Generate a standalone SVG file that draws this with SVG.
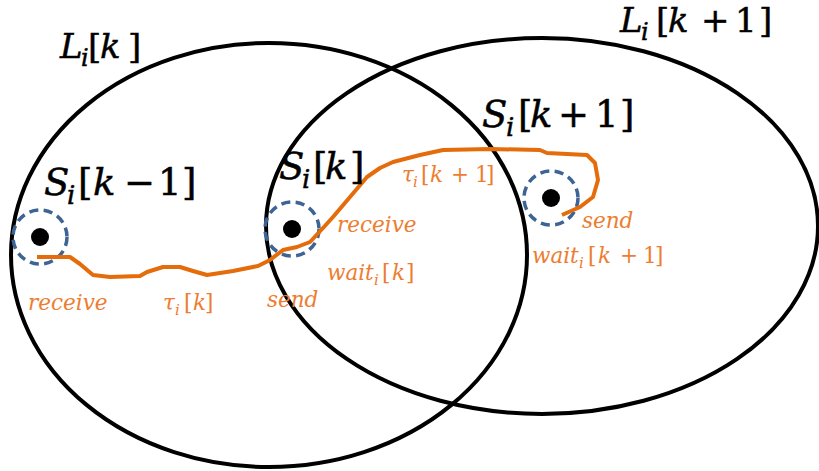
<svg xmlns="http://www.w3.org/2000/svg" width="819" height="471" viewBox="0 0 819 471">
<style>
.region{fill:none;stroke:#000;stroke-width:4}
.halo{fill:none;stroke:#3E6494;stroke-width:3.5;stroke-dasharray:9 5.5}
.dot{fill:#000}
.path{fill:none;stroke:#E46C0A;stroke-width:4;stroke-linejoin:round}
.big{font-family:"DejaVu Serif",serif;fill:#000;stroke:#000;stroke-width:0.5}
.ol{font-family:"DejaVu Serif",serif;fill:#ED7D31;font-size:21.5px}
.it{font-style:italic}
</style>
<rect width="819" height="471" fill="#fff"/>
<g id="region-L-k"><ellipse class="region" cx="269" cy="255" rx="258" ry="212"/></g>
<g id="region-L-k1"><ellipse class="region" cx="542" cy="226" rx="276" ry="188"/></g>
<g id="node-S-km1"><circle class="halo" cx="40" cy="237" r="27"/><circle class="dot" cx="40" cy="237" r="9"/></g>
<g id="node-S-k"><circle class="halo" cx="292" cy="229" r="27"/><circle class="dot" cx="292" cy="229" r="9"/></g>
<g id="node-S-k1"><circle class="halo" cx="551" cy="198" r="27"/><circle class="dot" cx="551" cy="198" r="9"/></g>
<g id="connectors">
<path class="path" d="M37,257 L70,257 L80,264 L93,275 L110,277 L140,276 L147,272 L163,267 L180,267 L193,271 L207,275 L220,273 L233,271 L258,266 L270,260 L283,250 L297,247 L310,242 L323,228 L333,217 L350,197 L367,177 L380,168 L393,162 L420,155 L443,150 L490,149 L540,150 L547,153 L587,155 L595,163 L598,180 L593,197 L580,207 L562,215"/>
</g>
<g id="labels-black" class="big">
<text font-size="34"><tspan class="it" x="60" y="58">L</tspan><tspan class="it" x="81" y="66" font-size="24">i</tspan><tspan x="88" y="58">[</tspan><tspan class="it" x="100" y="58">k</tspan><tspan x="128" y="58">]</tspan></text>
<text font-size="34"><tspan class="it" x="620" y="32">L</tspan><tspan class="it" x="641" y="40" font-size="24">i</tspan><tspan x="656" y="32">[</tspan><tspan class="it" x="668" y="32">k</tspan><tspan x="701" y="32">+</tspan><tspan x="735" y="32">1</tspan><tspan x="759" y="32">]</tspan></text>
<text font-size="37"><tspan class="it" x="44" y="195">S</tspan><tspan class="it" x="67" y="204" font-size="26">i</tspan><tspan x="78" y="195">[</tspan><tspan class="it" x="93" y="195">k</tspan><tspan x="124" y="195">−</tspan><tspan x="158" y="195">1</tspan><tspan x="182" y="195">]</tspan></text>
<text font-size="37"><tspan class="it" x="279" y="179">S</tspan><tspan class="it" x="302" y="188" font-size="26">i</tspan><tspan x="313" y="179">[</tspan><tspan class="it" x="325" y="179">k</tspan><tspan x="350" y="179">]</tspan></text>
<text font-size="37"><tspan class="it" x="482" y="127">S</tspan><tspan class="it" x="506" y="136" font-size="26">i</tspan><tspan x="518" y="127">[</tspan><tspan class="it" x="530" y="127">k</tspan><tspan x="558" y="127">+</tspan><tspan x="595" y="127">1</tspan><tspan x="620" y="127">]</tspan></text>
</g>
<g id="labels-orange" class="ol">
<text class="it" x="28" y="310">receive</text>
<text class="it" x="267" y="307">send</text>
<text class="it" x="337" y="232">receive</text>
<text class="it" x="582" y="228">send</text>
<text><tspan class="it" x="163" y="310">τ</tspan><tspan class="it" x="175" y="315" font-size="15">i</tspan><tspan x="184" y="310">[</tspan><tspan class="it" x="193" y="310">k</tspan><tspan x="205" y="310">]</tspan></text>
<text><tspan class="it" x="402" y="182">τ</tspan><tspan class="it" x="413" y="187" font-size="15">i</tspan><tspan x="421" y="182">[</tspan><tspan class="it" x="430" y="182">k</tspan><tspan x="451" y="182">+</tspan><tspan x="475" y="182">1</tspan><tspan x="486" y="182">]</tspan></text>
<text><tspan class="it" x="327" y="280">wait</tspan><tspan class="it" x="374" y="285" font-size="15">i</tspan><tspan x="382" y="280">[</tspan><tspan class="it" x="392" y="280">k</tspan><tspan x="406" y="280">]</tspan></text>
<text><tspan class="it" x="532" y="263">wait</tspan><tspan class="it" x="579" y="268" font-size="15">i</tspan><tspan x="588" y="263">[</tspan><tspan class="it" x="598" y="263">k</tspan><tspan x="620" y="263">+</tspan><tspan x="643" y="263">1</tspan><tspan x="655" y="263">]</tspan></text>
</g>
</svg>
